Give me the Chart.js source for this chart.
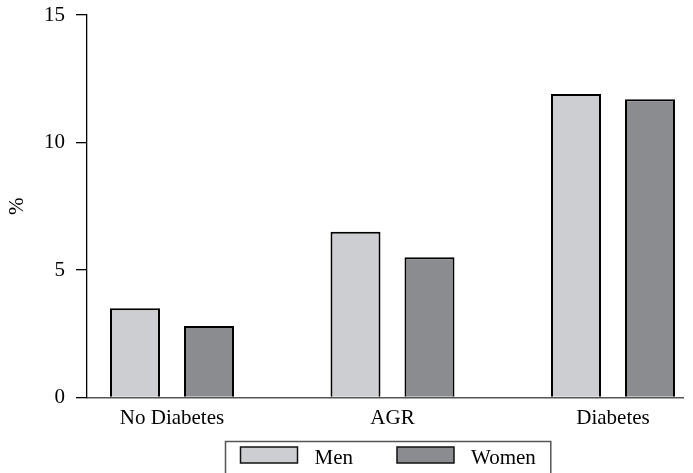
<!DOCTYPE html>
<html>
<head>
<meta charset="utf-8">
<script src="https://cdn.jsdelivr.net/npm/chart.js@4"></script>
<style>
  html, body { margin: 0; padding: 0; background: #fff; overflow: hidden; }
  #wrap { width: 693px; height: 473px; position: relative; }
</style>
</head>
<body>
<div id="wrap"><canvas id="chart" width="693" height="473"></canvas></div>
<script>
const categories = ['No Diabetes', 'AGR', 'Diabetes'];
const menValues = [3.5, 6.5, 11.9];
const womenValues = [2.8, 5.5, 11.7];
const yTicks = [0, 5, 10, 15];

const FONT = "'Liberation Serif', 'Times New Roman', serif";

// simple framed legend under the plot, like the original figure
const framedLegend = {
  id: 'framedLegend',
  afterDraw(chart) {
    const ctx = chart.ctx;
    const area = chart.chartArea;
    const boxW = 57, boxH = 16, gap = 17, itemGap = 44, pad = 15;
    ctx.save();
    ctx.font = '21px ' + FONT;
    const items = chart.data.datasets.map(ds => ({
      label: ds.label, fill: ds.backgroundColor, w: boxW + gap + ctx.measureText(ds.label).width
    }));
    const total = items.reduce((s, it) => s + it.w, 0) + itemGap * (items.length - 1) + pad * 2;
    const left = Math.round((area.left + area.right) / 2 - total / 2 + 3) + 0.5;
    const top = 441.5;
    ctx.strokeStyle = '#555';
    ctx.lineWidth = 1.5;
    ctx.strokeRect(left, top, total, 60);
    let x = left + pad;
    items.forEach(it => {
      ctx.fillStyle = it.fill;
      ctx.fillRect(x, 447, boxW, boxH);
      ctx.strokeStyle = '#111';
      ctx.lineWidth = 1.5;
      ctx.strokeRect(x, 447, boxW, boxH);
      ctx.fillStyle = '#000';
      ctx.textBaseline = 'middle';
      ctx.textAlign = 'left';
      ctx.fillText(it.label, x + boxW + gap, 458);
      x += it.w + itemGap;
    });
    ctx.restore();
  }
};

new Chart(document.getElementById('chart'), {
  type: 'bar',
  data: {
    datasets: [{
      label: 'Men',
      data: menValues.map((v, i) => ({ x: i, y: v })),
      backgroundColor: '#cdced1',
      borderColor: '#000',
      borderWidth: 2
    }, {
      label: 'Women',
      data: womenValues.map((v, i) => ({ x: i, y: v })),
      backgroundColor: '#8b8c90',
      borderColor: '#000',
      borderWidth: 2
    }]
  },
  options: {
    responsive: false,
    animation: false,
    categoryPercentage: 0.6712,
    barPercentage: 0.6757,
    layout: { padding: { top: 15, right: 10, bottom: 45.5, left: 0 } },
    plugins: {
      legend: { display: false },
      tooltip: { enabled: false }
    },
    scales: {
      x: {
        type: 'linear',
        offset: false,
        min: -0.3855,
        max: 2.3175,
        afterBuildTicks: s => { s.ticks = categories.map((_, i) => ({ value: i })); },
        afterFit: s => { s.height = 30; s.paddingLeft = 0; s.paddingRight = 0; },
        grid: { display: false, offset: false },
        border: { display: true, color: '#555', width: 1.5 },
        ticks: {
          padding: 0,
          color: '#000',
          font: { family: FONT, size: 21 },
          maxRotation: 0,
          autoSkip: false,
          callback: v => categories[v] ?? ''
        }
      },
      y: {
        min: 0,
        max: 15,
        afterBuildTicks: s => { s.ticks = yTicks.map(v => ({ value: v })); },
        afterFit: s => { s.width = 87; s.paddingTop = 0; s.paddingBottom = 0; },
        grid: {
          drawOnChartArea: false,
          drawTicks: true,
          tickLength: 11,
          color: '#000',
          lineWidth: 1.3
        },
        border: { display: true, color: '#000', width: 1.3 },
        ticks: {
          padding: 11,
          color: '#000',
          font: { family: FONT, size: 21 }
        },
        title: {
          display: true,
          text: '%',
          color: '#000',
          font: { family: FONT, size: 21 },
          padding: { top: 5, bottom: 0 }
        }
      }
    }
  },
  plugins: [framedLegend]
});
</script>
</body>
</html>
